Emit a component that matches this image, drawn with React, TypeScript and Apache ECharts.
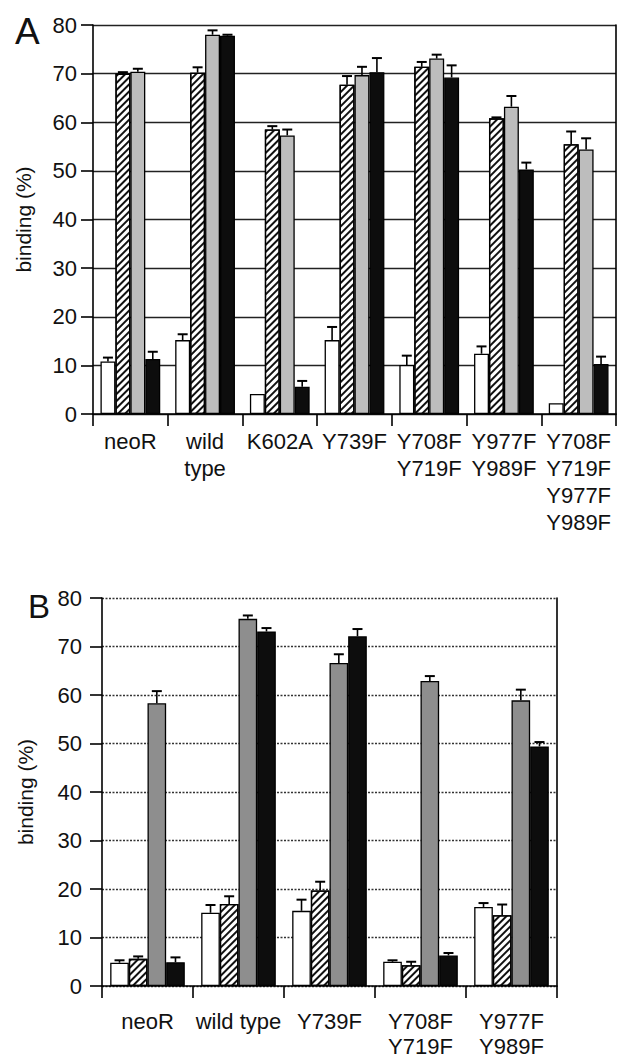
import React, { useEffect, useRef } from "react";
import * as echarts from "echarts";

// ---------- Panel A data ----------
const categoriesA = [
  "neoR",
  "wild\ntype",
  "K602A",
  "Y739F",
  "Y708F\nY719F",
  "Y977F\nY989F",
  "Y708F\nY719F\nY977F\nY989F",
];
const aWhite = [10.8, 15.2, 4.1, 15.2, 10.1, 12.4, 2.2];
const aWhiteErr = [0.8, 1.2, 0, 2.7, 1.9, 1.5, 0];
const aHatched = [70.0, 70.2, 58.5, 67.7, 71.4, 60.8, 55.5];
const aHatchedErr = [0.3, 1.1, 0.7, 1.8, 1.0, 0.2, 2.6];
const aGray = [70.4, 78.0, 57.3, 69.7, 73.1, 63.2, 54.4];
const aGrayErr = [0.6, 0.9, 1.2, 1.7, 0.8, 2.2, 2.3];
const aBlack = [11.3, 77.8, 5.6, 70.3, 69.2, 50.3, 10.3];
const aBlackErr = [1.5, 0.2, 1.2, 2.9, 2.5, 1.4, 1.5];

// ---------- Panel B data ----------
const categoriesB = ["neoR", "wild type", "Y739F", "Y708F\nY719F", "Y977F\nY989F"];
const bWhite = [4.8, 15.1, 15.5, 5.0, 16.3];
const bWhiteErr = [0.5, 1.6, 2.3, 0.3, 0.8];
const bHatched = [5.6, 16.9, 19.7, 4.3, 14.6];
const bHatchedErr = [0.5, 1.6, 1.8, 0.7, 2.2];
const bGray = [58.3, 75.7, 66.6, 62.9, 58.9];
const bGrayErr = [2.5, 0.7, 1.8, 1.0, 2.2];
const bBlack = [4.9, 73.1, 72.1, 6.3, 49.4];
const bBlackErr = [1.0, 0.7, 1.5, 0.5, 0.9];

const yTicks = [0, 10, 20, 30, 40, 50, 60, 70, 80];

const FONT = "'Liberation Sans', Arial, Helvetica, sans-serif";
const GAP_A = 0.2;
const GAP_B = 0.18;

function hatchDecal() {
  return {
    symbol: "rect",
    symbolSize: 1,
    dashArrayX: [1, 0],
    dashArrayY: [1.3, 2.3],
    rotation: -Math.PI / 4,
    color: "#111",
    backgroundColor: "#fff",
  };
}

function errData(groups: number[][], errs: number[][]) {
  const out: number[][] = [];
  groups.forEach((vals, s) => {
    vals.forEach((v, i) => {
      out.push([i, v, errs[s][i], s]);
    });
  });
  return out;
}

function makeErrRender(gap: number) {
  return (params: any, api: any) => {
    const cat = api.value(0);
    const v = api.value(1);
    const e = api.value(2);
    const s = api.value(3);
    if (!e) return { type: "group", children: [] };
    const base = api.coord([cat, v]);
    const top = api.coord([cat, v + e]);
    const band = api.size([1, 0])[0];
    const bw = (band * (1 - gap)) / 4;
    const x = base[0] + (s - 1.5) * bw;
    const st = { stroke: "#000", lineWidth: 1.6 };
    return {
      type: "group",
      children: [
        { type: "line", shape: { x1: x, y1: base[1], x2: x, y2: top[1] }, style: st },
        { type: "line", shape: { x1: x - 5, y1: top[1], x2: x + 5, y2: top[1] }, style: { stroke: "#000", lineWidth: 2 } },
      ],
    };
  };
}

function barSeries(
  name: string,
  data: number[],
  idx: number,
  fill: string,
  gap: number,
  decal?: any
) {
  return {
    type: "bar",
    name,
    data,
    xAxisIndex: idx,
    yAxisIndex: idx * 2,
    barGap: "0%",
    barCategoryGap: Math.round(gap * 100) + "%",
    itemStyle: {
      color: fill,
      borderColor: "#000",
      borderWidth: 1.3,
      ...(decal ? { decal } : {}),
    },
    z: 2,
  };
}

function leftY(gridIndex: number, dotted: boolean, labelMargin: number, nameGap: number) {
  return {
    type: "value",
    gridIndex,
    min: yTicks[0],
    max: yTicks[yTicks.length - 1],
    interval: yTicks[1] - yTicks[0],
    name: "binding (%)",
    nameLocation: "middle",
    nameGap,
    nameTextStyle: { fontSize: 21, color: "#111", fontFamily: FONT },
    axisLine: { show: true, lineStyle: { color: "#000", width: 1.6 } },
    axisTick: { show: true, length: 12, lineStyle: { color: "#000", width: 1.6 } },
    axisLabel: { fontSize: 22, color: "#111", fontFamily: FONT, margin: labelMargin },
    splitLine: {
      show: true,
      lineStyle: dotted
        ? { color: "#333", width: 1.3, type: [2, 1.5] }
        : { color: "#222", width: 1.3 },
    },
  };
}

function rightY(gridIndex: number) {
  return {
    type: "value",
    gridIndex,
    position: "right",
    min: yTicks[0],
    max: yTicks[yTicks.length - 1],
    interval: yTicks[1] - yTicks[0],
    axisLine: { show: true, lineStyle: { color: "#000", width: 1.6 } },
    axisTick: { show: false },
    axisLabel: { show: false },
    splitLine: { show: false },
  };
}

function catX(gridIndex: number, data: string[], lineHeight: number, margin: number) {
  return {
    type: "category",
    gridIndex,
    data,
    axisLine: { show: true, lineStyle: { color: "#000", width: 1.6 } },
    axisTick: { show: true, length: 12, alignWithLabel: false, lineStyle: { color: "#000", width: 1.6 } },
    axisLabel: {
      interval: 0,
      fontSize: 22,
      lineHeight,
      color: "#111",
      fontFamily: FONT,
      margin,
    },
    splitLine: { show: false },
  };
}

export default function App() {
  const ref = useRef<HTMLDivElement>(null);

  useEffect(() => {
    document.body.style.margin = "0";
    if (!ref.current) return;
    const chart = echarts.init(ref.current, null, { renderer: "svg" });

    const option: any = {
      animation: false,
      backgroundColor: "#fff",
      textStyle: { fontFamily: FONT },
      title: [
        {
          text: "A",
          left: 10,
          top: 8,
          textStyle: { fontSize: 37, fontWeight: "normal", color: "#111", fontFamily: FONT },
        },
        {
          text: "B",
          left: 23,
          top: 585,
          textStyle: { fontSize: 33, fontWeight: "normal", color: "#111", fontFamily: FONT },
        },
      ],
      grid: [
        { left: 93, right: 8, top: 25, height: 389, containLabel: false },
        { left: 102, right: 67, top: 598, height: 393, containLabel: false },
      ],
      xAxis: [catX(0, categoriesA, 27, 14), catX(1, categoriesB, 25, 23)],
      yAxis: [leftY(0, false, 16, 59), rightY(0), leftY(1, true, 20, 66), rightY(1)],
      series: [
        barSeries("white", aWhite, 0, "#fff", GAP_A),
        barSeries("hatched", aHatched, 0, "#fff", GAP_A, hatchDecal()),
        barSeries("gray", aGray, 0, "#bdbdbd", GAP_A),
        barSeries("black", aBlack, 0, "#0d0d0d", GAP_A),
        {
          type: "custom",
          xAxisIndex: 0,
          yAxisIndex: 0,
          renderItem: makeErrRender(GAP_A),
          data: errData([aWhite, aHatched, aGray, aBlack], [aWhiteErr, aHatchedErr, aGrayErr, aBlackErr]),
          encode: { x: 0, y: 1 },
          clip: false,
          z: 3,
        },
        barSeries("white", bWhite, 1, "#fff", GAP_B),
        barSeries("hatched", bHatched, 1, "#fff", GAP_B, hatchDecal()),
        barSeries("gray", bGray, 1, "#8e8e8e", GAP_B),
        barSeries("black", bBlack, 1, "#0d0d0d", GAP_B),
        {
          type: "custom",
          xAxisIndex: 1,
          yAxisIndex: 2,
          renderItem: makeErrRender(GAP_B),
          data: errData([bWhite, bHatched, bGray, bBlack], [bWhiteErr, bHatchedErr, bGrayErr, bBlackErr]),
          encode: { x: 0, y: 1 },
          clip: false,
          z: 3,
        },
      ],
    };

    chart.setOption(option);
    return () => chart.dispose();
  }, []);

  return <div ref={ref} style={{ width: 624, height: 1059 }} />;
}
